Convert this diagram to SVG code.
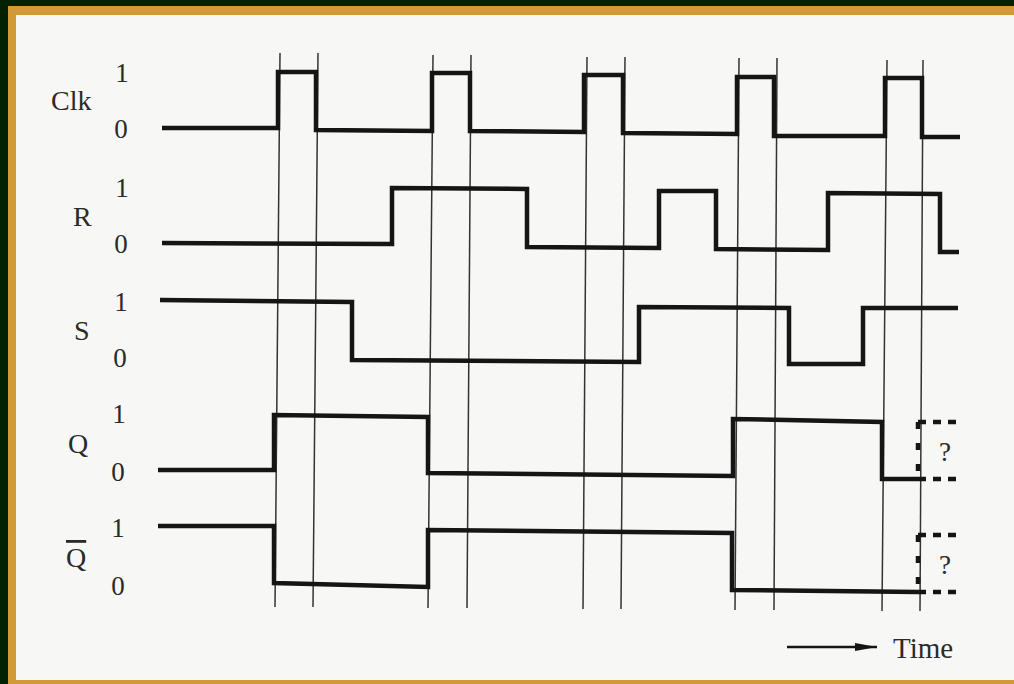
<svg xmlns="http://www.w3.org/2000/svg" width="1014" height="684" viewBox="0 0 1014 684">
<style>
.lbl{font-family:"Liberation Serif","Times New Roman",serif;font-size:28px;fill:#2a2a2a}
.num{font-family:"Liberation Serif","Times New Roman",serif;font-size:27px;fill:#2a2a2a;text-anchor:middle}
.wave{fill:none;stroke:#151515;stroke-width:4.5;stroke-linejoin:miter}
.grid{stroke:#333;stroke-width:1.5}
.dash{stroke:#151515;stroke-width:4.5;stroke-dasharray:8 7;fill:none}
.qm{font-family:"Liberation Serif","Times New Roman",serif;font-size:27px;fill:#2a2a2a;text-anchor:middle}
</style>
<defs>
<marker id="ah" markerWidth="22" markerHeight="10" refX="22" refY="5" orient="auto" markerUnits="userSpaceOnUse">
<path d="M0,1 L22,5 L0,9 Z" fill="#151515"/>
</marker>
</defs>
<rect x="0" y="0" width="1014" height="684" fill="#022002"/>
<rect x="8" y="6" width="1006" height="678" fill="#cf9a37"/>
<rect x="16" y="15" width="998" height="665" fill="#f7f7f6"/>

<g id="gridlines">
<line class="grid" x1="280" y1="53" x2="275" y2="607"/>
<line class="grid" x1="318" y1="53" x2="313" y2="607"/>
<line class="grid" x1="433" y1="55" x2="428" y2="608"/>
<line class="grid" x1="471" y1="55" x2="467" y2="608"/>
<line class="grid" x1="587" y1="57" x2="583" y2="609"/>
<line class="grid" x1="625" y1="57" x2="621" y2="609"/>
<line class="grid" x1="739" y1="58" x2="735" y2="610"/>
<line class="grid" x1="777" y1="58" x2="774" y2="610"/>
<line class="grid" x1="887" y1="60" x2="882" y2="611"/>
<line class="grid" x1="923" y1="60" x2="920" y2="611"/>
</g>

<g id="clk">
<text class="lbl" x="51" y="110">Clk</text>
<text class="num" x="122" y="82">1</text>
<text class="num" x="121" y="138">0</text>
<polyline class="wave" points="162,128 278,128 278,72 316,72 316,130 432,131 432,73 470,73 470,131 584,132 584,75 623,75 623,133 737,134 737,77 774,77 774,136 885,136 885,78 922,78 922,137 960,137"/>
</g>

<g id="r">
<text class="lbl" x="73" y="226">R</text>
<text class="num" x="122" y="197">1</text>
<text class="num" x="121" y="253">0</text>
<polyline class="wave" points="162,243 392,244 392,188 527,189 527,247 659,248 659,191 716,191 716,249 828,250 828,193 940,194 940,252 959,252"/>
</g>

<g id="s">
<text class="lbl" x="74" y="340">S</text>
<text class="num" x="121" y="311">1</text>
<text class="num" x="120" y="367">0</text>
<polyline class="wave" points="160,300 352,302 352,360 639,362 639,307 789,308 789,364 863,364 863,308 958,308"/>
</g>

<g id="q">
<text class="lbl" x="68" y="453">Q</text>
<text class="num" x="119" y="423">1</text>
<text class="num" x="118" y="481">0</text>
<polyline class="wave" points="158,470 274,470 274,415 428,417 428,473 733,476 733,419 882,422 882,479 918,479"/>
<line class="dash" x1="918" y1="422" x2="958" y2="422"/>
<line class="dash" x1="918" y1="479" x2="958" y2="479"/>
<line class="dash" x1="918" y1="422" x2="918" y2="479" style="stroke-dasharray:7 14"/>
<text class="qm" x="945" y="461">?</text>
</g>

<g id="qbar">
<text class="lbl" x="66" y="567" text-decoration="overline">Q</text>
<text class="num" x="118" y="537">1</text>
<text class="num" x="118" y="595">0</text>
<polyline class="wave" points="158,526 274,526 274,583 428,587 428,530 732,533 732,590 918,592"/>
<line class="dash" x1="918" y1="535" x2="958" y2="535"/>
<line class="dash" x1="918" y1="592" x2="958" y2="592"/>
<line class="dash" x1="918" y1="535" x2="918" y2="592" style="stroke-dasharray:7 14"/>
<text class="qm" x="945" y="574">?</text>
</g>

<g id="time">
<line x1="787" y1="647" x2="877" y2="647" stroke="#151515" stroke-width="2.5" marker-end="url(#ah)"/>
<text class="lbl" x="893" y="658" style="font-size:29px">Time</text>
</g>
</svg>
